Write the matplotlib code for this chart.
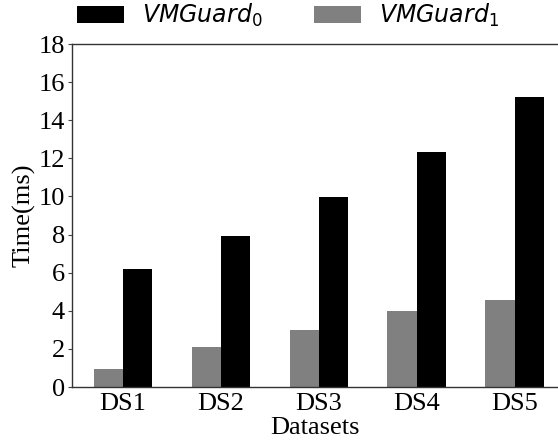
import matplotlib
matplotlib.use("Agg")
import matplotlib.pyplot as plt
import numpy as np

categories = ["DS1", "DS2", "DS3", "DS4", "DS5"]
vmguard0 = [6.2, 7.92, 9.97, 12.33, 15.2]
vmguard1 = [0.95, 2.1, 3.0, 4.0, 4.56]
yticks = [0, 2, 4, 6, 8, 10, 12, 14, 16, 18]

plt.rcParams["font.family"] = ["Liberation Serif", "DejaVu Serif"]
plt.rcParams["mathtext.fontset"] = "dejavusans"

fig = plt.figure(figsize=(5.58, 4.48), dpi=100)
ax = fig.add_axes([72/558, 1-387/448, (557-72)/558, (387-44)/448])

x = np.arange(len(categories))
w = 0.3
b0 = ax.bar(x + w/2, vmguard0, width=w, color="black", label=r"$VMGuard_0$")
b1 = ax.bar(x - w/2, vmguard1, width=w, color="#808080", label=r"$VMGuard_1$")

ax.set_xlim(-0.52, 4.43)
ax.set_ylim(0, 18)
ax.set_yticks(yticks)
ax.set_xticks(x)
ax.set_xticklabels(categories)
ax.tick_params(axis="x", length=0, labelsize=19, pad=4)
ax.tick_params(axis="y", length=3, labelsize=19, pad=2, color="#444444")
ax.spines["right"].set_visible(False)
for s in ["left", "top", "bottom"]:
    ax.spines[s].set_color("#333333")
    ax.spines[s].set_linewidth(1.0)

ax.set_xlabel("Datasets", fontsize=19, labelpad=2)
ax.set_ylabel("Time(ms)", fontsize=19, labelpad=2)

fig.legend(handles=[b0, b1], loc="center", bbox_to_anchor=(288/558, 1-15.5/448),
           ncol=2, frameon=False, fontsize=17, handlelength=2.0, handleheight=0.7,
           columnspacing=2.2, handletextpad=0.76, borderaxespad=0, borderpad=0)

fig.savefig("out.png", dpi=100)
